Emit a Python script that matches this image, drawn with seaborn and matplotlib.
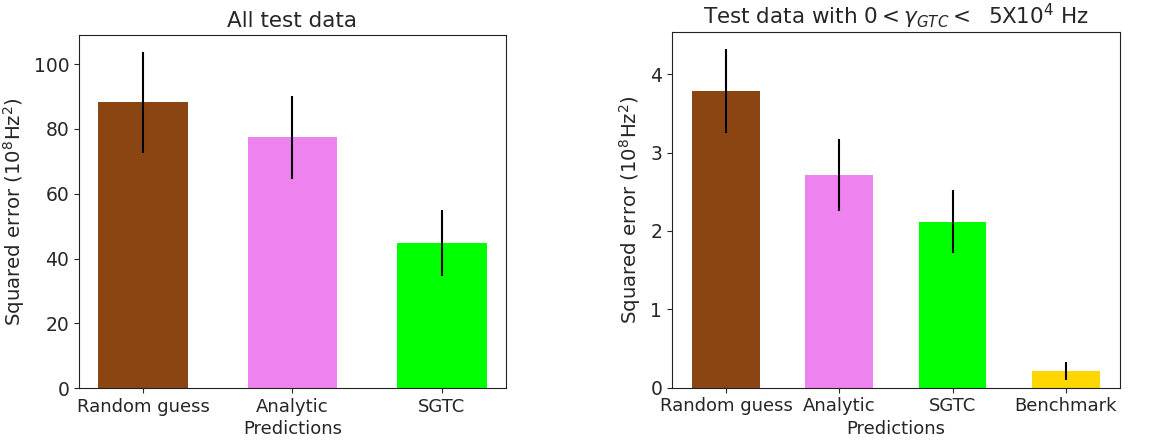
import matplotlib
matplotlib.use("Agg")
import matplotlib.pyplot as plt
import seaborn as sns
import numpy as np
import pandas as pd

# Data
cats_all = ["Random guess", "Analytic", "SGTC"]
vals_all = [88.2, 77.4, 44.8]
errs_all = [15.6, 12.7, 10.3]
colors_all = ["#8B4513", "#EE82EE", "#00FF00"]

cats_sub = ["Random guess", "Analytic", "SGTC", "Benchmark"]
vals_sub = [3.785, 2.72, 2.12, 0.213]
errs_sub = [0.535, 0.46, 0.40, 0.115]
colors_sub = ["#8B4513", "#EE82EE", "#00FF00", "#FFD700"]

sns.set_style("ticks")
plt.rcParams["font.family"] = ["DejaVu Sans"]
plt.rcParams["mathtext.fontset"] = "dejavusans"

FS = 13
fig = plt.figure(figsize=(11.57, 4.44), dpi=100)
ax1 = fig.add_axes([0.0683, 0.126, 0.369, 0.795])
ax2 = fig.add_axes([0.5808, 0.127, 0.3872, 0.800])

def draw(ax, cats, vals, errs, colors, title, xticklabels):
    df = pd.DataFrame({"cat": cats, "val": vals})
    sns.barplot(data=df, x="cat", y="val", hue="cat", palette=colors,
                legend=False, errorbar=None, width=0.6, linewidth=0,
                saturation=1, ax=ax)
    x = np.arange(len(cats))
    ax.errorbar(x, vals, yerr=errs, fmt="none", ecolor="black",
                elinewidth=1.5, capsize=0)
    n = len(cats)
    span = (n - 1) + 0.6
    ax.set_xlim(-0.3 - 0.05 * span, n - 1 + 0.3 + 0.05 * span)
    top = max(v + e for v, e in zip(vals, errs))
    ax.set_ylim(0, top * 1.05)
    ax.set_xticks(x)
    ax.set_xticklabels(xticklabels, fontsize=FS)
    ax.tick_params(axis="y", labelsize=FS + 0.5)
    ax.set_xlabel("Predictions", fontsize=FS, labelpad=3)
    ax.set_ylabel(r"Squared error ($10^8$Hz$^2$)", fontsize=14.2, labelpad=5)
    ax.set_title(title, fontsize=15.5, pad=6)
    for s in ax.spines.values():
        s.set_visible(True)
        s.set_color("#222222")

draw(ax1, cats_all, vals_all, errs_all, colors_all, "All test data",
     cats_all)
ax1.set_yticks([0, 20, 40, 60, 80, 100])
draw(ax2, cats_sub, vals_sub, errs_sub, colors_sub,
     r"Test data with $0 < \gamma_{GTC} <$  5X10$^4$ Hz", cats_sub)
ax2.set_yticks([0, 1, 2, 3, 4])

fig.savefig("out.png", dpi=100)
